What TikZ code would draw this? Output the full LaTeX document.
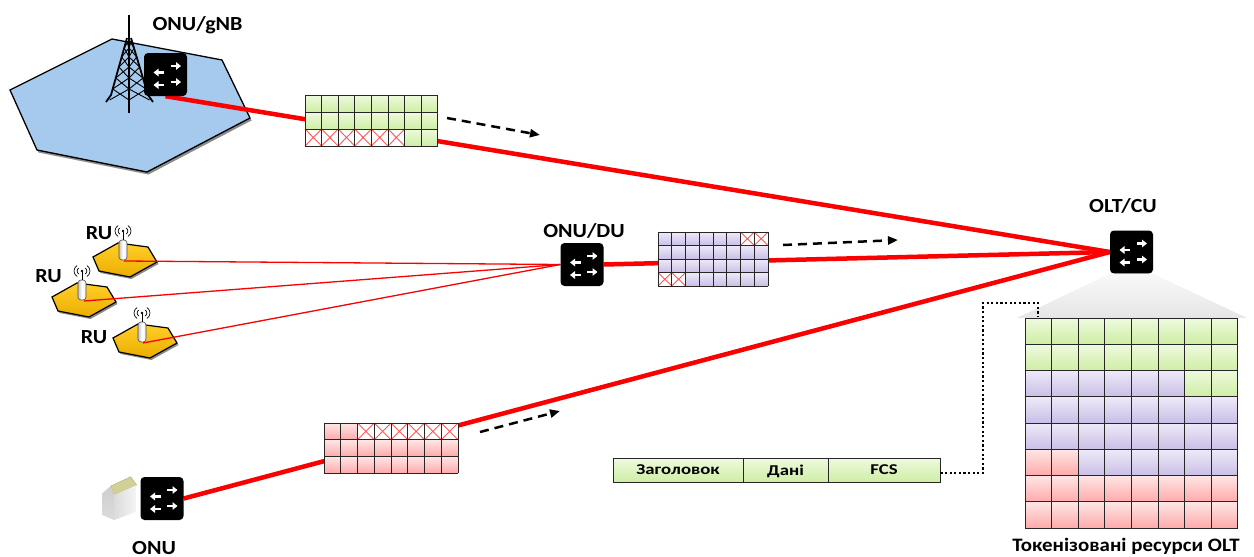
\documentclass[tikz,border=0pt]{standalone}
\usepackage{fontspec}
\setmainfont{Carlito}[FakeStretch=1.1]
\newfontfamily\pktfont{Carlito}[FakeStretch=1.25]
\usetikzlibrary{shadows,calc,arrows.meta}
\pgfdeclarelayer{back}
\pgfdeclarelayer{links}
\pgfsetlayers{back,links,main}

\definecolor{hexblue}{RGB}{166,202,238}
\definecolor{rutop}{RGB}{255,208,40}
\definecolor{rubot}{RGB}{236,172,0}
\definecolor{gtop}{RGB}{238,250,222}
\definecolor{gbot}{RGB}{206,238,164}
\definecolor{ptop}{RGB}{238,234,248}
\definecolor{pbot}{RGB}{202,190,230}
\definecolor{rtop}{RGB}{255,230,230}
\definecolor{rbot}{RGB}{255,170,170}
\definecolor{roof}{RGB}{210,208,150}
\definecolor{linkred}{RGB}{250,0,0}

\tikzset{
  lbl/.style={font=\bfseries\fontsize{20}{24}\selectfont, anchor=base, inner sep=0pt},
  smalllbl/.style={font=\bfseries\fontsize{19}{22}\selectfont, anchor=base, inner sep=0pt},
  sw arrow/.style={white, line width=2.5pt, -{Triangle[length=5pt,width=7.5pt]}},
  switchbox/.style={fill=black, rounded corners=4pt, minimum width=43pt,
    minimum height=43pt, inner sep=0pt,
    path picture={
      \draw[sw arrow] ([shift={(-1.5pt,2pt)}]path picture bounding box.center) -- ++(-10.5pt,0pt);
      \draw[sw arrow] ([shift={(5pt,8.5pt)}]path picture bounding box.center) -- ++(10.5pt,0pt);
      \draw[sw arrow] ([shift={(-1.5pt,-10.5pt)}]path picture bounding box.center) -- ++(-10.5pt,0pt);
      \draw[sw arrow] ([shift={(5pt,-7.5pt)}]path picture bounding box.center) -- ++(10.5pt,0pt);
    }},
  thicklink/.style={linkred, line width=4.5pt},
  thinlink/.style={linkred, line width=1.3pt},
  flow/.style={black, line width=2.5pt, dash pattern=on 9pt off 6pt,
    -{Triangle[length=10pt,width=8pt]}},
  gridline/.style={black!85, line width=1pt},
  crossline/.style={red!65, line width=0.9pt},
  greencell/.style={top color=gtop, bottom color=gbot},
  purplecell/.style={top color=ptop, bottom color=pbot},
  pinkcell/.style={top color=rtop, bottom color=rbot},
  ruface/.style={top color=rutop, bottom color=rubot, draw=black, line width=1.2pt,
    drop shadow={shadow xshift=1.5pt, shadow yshift=-2pt, fill=black, opacity=0.45}},
  antbody/.style={draw=black!70, line width=0.6pt, left color=gray!45, right color=gray!15, middle color=white},
  antline/.style={black, line width=0.7pt},
  towerleg/.style={black, line width=1.8pt},
  towerbrace/.style={black, line width=0.9pt},
  pktcell/.style={draw=black!85, line width=0.9pt, top color=gtop, bottom color=gbot,
    minimum height=24pt, inner sep=0pt, text depth=0pt,
    font=\pktfont\bfseries\fontsize{15}{17}\selectfont},
  tokenlink/.style={black, line width=2.2pt, dash pattern=on 2.2pt off 2.4pt},
}

% cell grid helpers: origin, cell width, cell height
\newcommand\gridsetup[4]{\def\gridX{#1}\def\gridY{#2}\def\gridW{#3}\def\gridH{#4}}
\newcommand\cellfill[3]{\path[#1] ({\gridX+#2*\gridW},{\gridY+#3*\gridH}) rectangle ++(\gridW,\gridH);}
\newcommand\cellcross[2]{%
  \fill[white] ({\gridX+#1*\gridW},{\gridY+#2*\gridH}) rectangle ++(\gridW,\gridH);
  \draw[crossline] ({\gridX+#1*\gridW},{\gridY+#2*\gridH}) -- ++(\gridW,\gridH)
    ({\gridX+(#1+1)*\gridW},{\gridY+#2*\gridH}) -- ++(-\gridW,\gridH);}
\newcommand\gridlines[2]{%
  \foreach \i in {0,...,#1} \draw[gridline] ({\gridX+\i*\gridW},\gridY) -- ++(0,{#2*\gridH});
  \foreach \j in {0,...,#2} \draw[gridline] (\gridX,{\gridY+\j*\gridH}) -- ++({#1*\gridW},0);}

% radio unit cell and its antenna
\newcommand\ruhex[2]{%
  \path[ruface] ({#1-32},{#2-3}) -- ({#1-7},{#2-17}) -- ({#1+23},{#2-13}) -- ({#1+32},{#2+2})
    -- ({#1+5},{#2+17}) -- ({#1-26},{#2+11}) -- cycle;}
\newcommand\ruant[2]{%
  \draw[antbody, rounded corners=3pt] ({#1-4},{#2+1}) rectangle ({#1+4},{#2-19});
  \draw[antline] (#1,{#2-19}) -- (#1,{#2-27});
  \fill (#1,{#2-28}) circle (1.4pt);
  \draw[antline] ({#1-3},{#2-31}) .. controls ({#1-5.5},{#2-29.5}) and ({#1-5.5},{#2-26.5}) .. ({#1-3},{#2-25});
  \draw[antline] ({#1+3},{#2-31}) .. controls ({#1+5.5},{#2-29.5}) and ({#1+5.5},{#2-26.5}) .. ({#1+3},{#2-25});
  \draw[antline] ({#1-5},{#2-33.5}) .. controls ({#1-9},{#2-30.5}) and ({#1-9},{#2-25.5}) .. ({#1-5},{#2-22.5});
  \draw[antline] ({#1+5},{#2-33.5}) .. controls ({#1+9},{#2-30.5}) and ({#1+9},{#2-25.5}) .. ({#1+5},{#2-22.5});}

\begin{document}
\begin{tikzpicture}[x=1pt, y=-1pt]
\useasboundingbox (0,0) rectangle (1254,557);

% ---------- gNB cell and radio unit cells ----------
\begin{pgfonlayer}{back}
  \path[fill=hexblue, draw=black, line width=1.3pt,
    drop shadow={shadow xshift=1.5pt, shadow yshift=-2.5pt, fill=black, opacity=0.45}]
    (112,39) -- (222,60) -- (250,118) -- (147,172) -- (37,150) -- (10,90) -- cycle;
  \ruhex{125}{260}
  \ruhex{84}{300}
  \ruhex{145}{341}
\end{pgfonlayer}

% lattice tower
\draw[line width=1.6pt] (129,15) -- (129,40);
\draw[towerleg] (127,38) -- (111,95) -- (106,102);
\draw[towerleg] (131,38) -- (148,95) -- (153,102);
\draw[towerleg] (129,38) -- (129,113);
\foreach \a/\b in {40/48, 48/57, 57/67, 67/78, 78/89, 89/100} {
  \draw[towerbrace] ({127-(\a-38)*0.28},\a) -- (129,\b) (129,\a) -- ({127-(\b-38)*0.28},\b);
  \draw[towerbrace] ({131+(\a-38)*0.3},\a) -- (129,\b) (129,\a) -- ({131+(\b-38)*0.3},\b);
}

% ---------- switches ----------
\node[switchbox] (gnb) at (165.5,74.5) {};
\node[switchbox] (du)  at (582,264.5) {};
\node[switchbox] (olt) at (1131.5,252) {};
\node[switchbox] (onu) at (162,498.5) {};

% antennas on the radio units
\ruant{123}{259}
\ruant{82}{299}
\ruant{142}{341}
\coordinate (ru1) at (124,261);
\coordinate (ru2) at (84,301);
\coordinate (ru3) at (143,343);

% home ONU
\path[fill=roof, draw=roof!80!black, line width=0.3pt] (110.7,486) -- (130.7,476.7) -- (136.7,485) -- (114,495) -- cycle;
\path[top color=gray!38, bottom color=gray!28] (102.3,493.3) -- (110.7,486) -- (114,495) -- (114,520) -- (102.3,515) -- cycle;
\path[left color=gray!28, right color=gray!8] (114,495) -- (136.7,485) -- (136.7,511.7) -- (114,520) -- cycle;

% ---------- links ----------
\begin{pgfonlayer}{links}
  \draw[thicklink] (gnb.south) -- (olt.west);
  \draw[thicklink] (du.east) -- (olt.west);
  \draw[thicklink] (onu.east) -- (olt.west);
  \draw[thinlink] (ru1) -- (du.west);
  \draw[thinlink] (ru2) -- (du.west);
  \draw[thinlink] (ru3) -- (du.west);
\end{pgfonlayer}

% ---------- frame grids ----------
\gridsetup{305}{95}{16.6}{17}
\foreach \r in {0,1,2}{\foreach \c in {0,...,7}{\cellfill{greencell}{\c}{\r}}}
\foreach \c in {0,...,5}{\cellcross{\c}{2}}
\gridlines{8}{3}

\gridsetup{658}{232}{13.75}{13.5}
\foreach \r in {0,...,3}{\foreach \c in {0,...,7}{\cellfill{purplecell}{\c}{\r}}}
\cellcross{6}{0}\cellcross{7}{0}\cellcross{0}{3}\cellcross{1}{3}
\gridlines{8}{4}

\gridsetup{324}{423}{16.75}{16.67}
\foreach \r in {0,1,2}{\foreach \c in {0,...,7}{\cellfill{pinkcell}{\c}{\r}}}
\foreach \c in {2,...,7}{\cellcross{\c}{0}}
\gridlines{8}{3}

% flow arrows
\coordinate (f1a) at (447,118); \coordinate (f1b) at (540,135);
\coordinate (f2a) at (783,245); \coordinate (f2b) at (898,240);
\coordinate (f3a) at (480,432); \coordinate (f3b) at (560,411);
\draw[flow] (f1a) -- (f1b);
\draw[flow] (f2a) -- (f2b);
\draw[flow] (f3a) -- (f3b);

% ---------- OLT token resources ----------
\path[top color=gray!5, bottom color=gray!20] (olt.south west) -- (olt.south east) -- (1247,318) -- (1017,318) -- cycle;
\gridsetup{1025}{318}{26.6}{26.25}
\foreach \c in {0,...,7}{\cellfill{greencell}{\c}{0}\cellfill{greencell}{\c}{1}}
\foreach \c in {0,...,5}{\cellfill{purplecell}{\c}{2}}
\foreach \c in {6,7}{\cellfill{greencell}{\c}{2}}
\foreach \c in {0,...,7}{\cellfill{purplecell}{\c}{3}\cellfill{purplecell}{\c}{4}}
\foreach \c in {0,1}{\cellfill{pinkcell}{\c}{5}}
\foreach \c in {2,...,7}{\cellfill{purplecell}{\c}{5}}
\foreach \c in {0,...,7}{\cellfill{pinkcell}{\c}{6}\cellfill{pinkcell}{\c}{7}}
\gridlines{8}{8}
\coordinate (tok) at (1038,317);

% frame structure
\node[pktcell, minimum width=130pt] (hdr) at (678,470) {Заголовок};
\node[pktcell, minimum width=85pt]  (dat) at (785.5,470) {Дані};
\node[pktcell, minimum width=112pt] (fcs) at (884,470) {FCS};
\draw[tokenlink] ([yshift=-3pt]fcs.east) -- (983,473) -- (983,303) -- (1038,303) -- (tok);

% ---------- labels ----------
\node[lbl] (lgnb) at (197.5,30) {ONU/gNB};
\node[lbl] (lru1) at (99,239) {RU};
\node[lbl] (lru2) at (48.5,282) {RU};
\node[lbl] (lru3) at (94,343) {RU};
\node[lbl] (ldu)  at (584,237) {ONU/DU};
\node[lbl] (lolt) at (1123,212) {OLT/CU};
\node[lbl] (lonu) at (154,554) {ONU};
\node[smalllbl] (ltok) at (1126,551) {Токенізовані ресурси OLT};
\end{tikzpicture}
\end{document}
